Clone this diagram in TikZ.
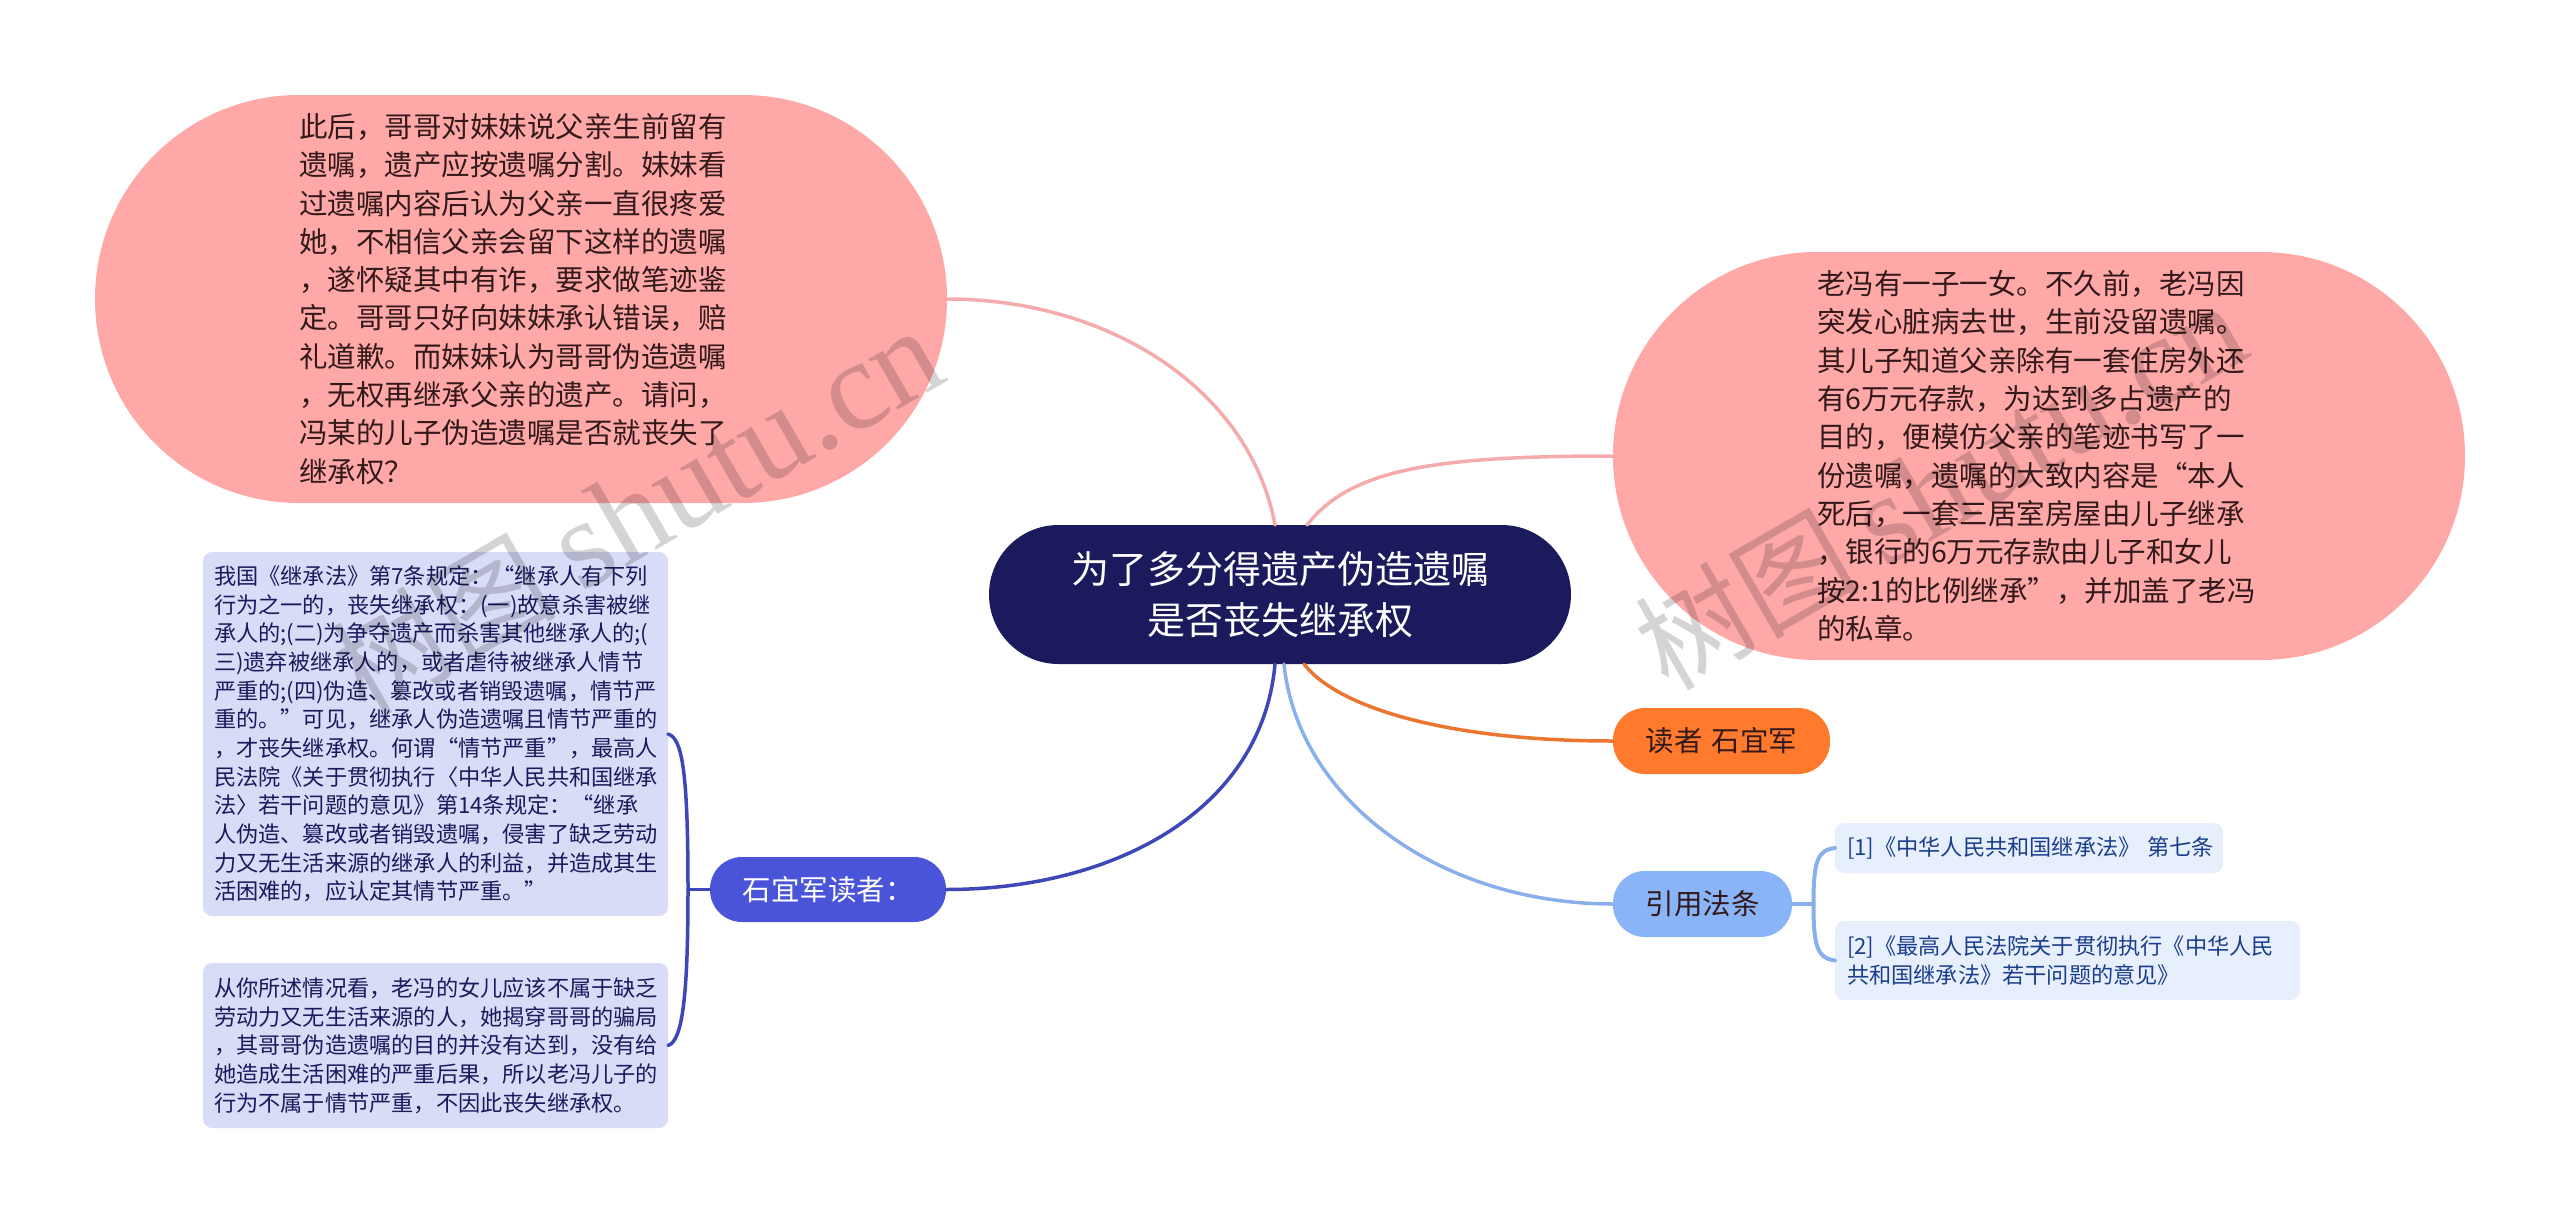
\documentclass[tikz,border=0pt]{standalone}
\usepackage{fontspec}
\setmainfont{Noto Sans CJK SC}
\newfontfamily\wmlatin{Liberation Serif}
\usetikzlibrary{calc}
\definecolor{rootfill}{HTML}{1A1A5C}
\definecolor{pinkfill}{HTML}{FFA8A8}
\definecolor{pinkline}{HTML}{F5ABAB}
\definecolor{orangefill}{HTML}{FF7A2C}
\definecolor{orangeline}{HTML}{EC7630}
\definecolor{bluefill}{HTML}{8AB4F8}
\definecolor{blueline}{HTML}{8AB0EC}
\definecolor{purplefill}{HTML}{4A54D8}
\definecolor{purpleline}{HTML}{3E47B8}
\definecolor{subfill}{HTML}{D9DCF7}
\definecolor{subtext}{HTML}{1A1A5C}
\definecolor{reffill}{HTML}{E8EFFC}
\definecolor{reftext}{HTML}{1A3E8C}
\definecolor{darktext}{HTML}{33191A}
\tikzset{
  every node/.style={inner sep=0pt,outer sep=0pt},
  bignode/.style={fill=pinkfill,rounded corners=204pt,minimum width=852pt,minimum height=408pt,
    text width=444pt,align=left,text=darktext,font=\fontsize{28.5}{38.3}\selectfont},
  rootnode/.style={fill=rootfill,rounded corners=69.5pt,minimum width=582pt,minimum height=139pt,
    align=center,text=white,font=\fontsize{38}{51}\selectfont},
  midnode/.style={rounded corners=32pt,minimum height=66pt,align=center,
    font=\fontsize{28.5}{36}\selectfont},
  subnode/.style={fill=subfill,rounded corners=9pt,minimum width=465pt,text width=443pt,align=left,
    text=subtext,font=\fontsize{22.2}{28.65}\selectfont},
  refnode/.style={fill=reffill,rounded corners=9pt,align=left,
    text=reftext,font=\fontsize{22.2}{29}\selectfont},
  link/.style={line width=3.5pt,line cap=round},
  wmark/.style={rotate=30,text=black,text opacity=0.17,font=\fontsize{112}{120}\selectfont},
}
\begin{document}
\begin{tikzpicture}[x=1pt,y=-1pt]
\useasboundingbox[fill=white] (0,0) rectangle (2560,1223);

\node[bignode] (lp) at (521,299) {此后，哥哥对妹妹说父亲生前留有\\遗嘱，遗产应按遗嘱分割。妹妹看\\过遗嘱内容后认为父亲一直很疼爱\\她，不相信父亲会留下这样的遗嘱\\，遂怀疑其中有诈，要求做笔迹鉴\\定。哥哥只好向妹妹承认错误，赔\\礼道歉。而妹妹认为哥哥伪造遗嘱\\，无权再继承父亲的遗产。请问，\\冯某的儿子伪造遗嘱是否就丧失了\\继承权？};
\node[bignode] (rp) at (2039,456) {老冯有一子一女。不久前，老冯因\\突发心脏病去世，生前没留遗嘱。\\其儿子知道父亲除有一套住房外还\\有6万元存款，为达到多占遗产的\\目的，便模仿父亲的笔迹书写了一\\份遗嘱，遗嘱的大致内容是“本人\\死后，一套三居室房屋由儿子继承\\，银行的6万元存款由儿子和女儿\\按2:1的比例继承”，并加盖了老冯\\的私章。};
\node[rootnode] (root) at (1280,594.5) {为了多分得遗产伪造遗嘱\\是否丧失继承权};
\node[midnode,fill=orangefill,minimum width=217pt,text=darktext] (reader) at (1721.5,741) {读者\hspace{0.32em}石宜军};
\node[midnode,fill=bluefill,minimum width=179pt,text=darktext] (cite) at (1702.5,904) {引用法条};
\node[midnode,fill=purplefill,minimum width=236pt,minimum height=65pt,text=white] (shi) at (828,889.5) {石宜军读者：};
\node[subnode,minimum height=364pt] (sub1) at (435.5,734) {我国《继承法》第7条规定：“继承人有下列\\行为之一的，丧失继承权：(一)故意杀害被继\\承人的;(二)为争夺遗产而杀害其他继承人的;(\\三)遗弃被继承人的，或者虐待被继承人情节\\严重的;(四)伪造、篡改或者销毁遗嘱，情节严\\重的。”可见，继承人伪造遗嘱且情节严重的\\，才丧失继承权。何谓“情节严重”，最高人\\民法院《关于贯彻执行〈中华人民共和国继承\\法〉若干问题的意见》第14条规定：“继承\\人伪造、篡改或者销毁遗嘱，侵害了缺乏劳动\\力又无生活来源的继承人的利益，并造成其生\\活困难的，应认定其情节严重。”};
\node[subnode,minimum height=165pt] (sub2) at (435.5,1045.5) {从你所述情况看，老冯的女儿应该不属于缺乏\\劳动力又无生活来源的人，她揭穿哥哥的骗局\\，其哥哥伪造遗嘱的目的并没有达到，没有给\\她造成生活困难的严重后果，所以老冯儿子的\\行为不属于情节严重，不因此丧失继承权。};
\node[refnode,minimum width=388pt,minimum height=50pt,text width=364pt] (ref1) at (2029,848) {[1]《中华人民共和国继承法》\hbox to 0.3em{}第七条};
\node[refnode,minimum width=465pt,minimum height=79pt,text width=441pt] (ref2) at (2067.5,960.5) {[2]《最高人民法院关于贯彻执行《中华人民\\共和国继承法》若干问题的意见》};

\coordinate (rootTL) at (1275,525);
\coordinate (rootTR) at (1307,525);
\coordinate (rootBL) at (1275,664);
\coordinate (rootBM) at (1284,664);
\coordinate (rootBR) at (1304,664);
\coordinate (leftHub) at (688,889.5);
\coordinate (rightHub) at (1813.5,904);

\draw[link,pinkline] (lp.east) .. controls (1110,299) and (1250,390) .. (rootTL);
\draw[link,pinkline] (rp.west) .. controls (1430,456) and (1350,470) .. (rootTR);
\draw[link,orangeline] (rootBR) .. controls (1335,705) and (1440,741) .. (reader.west);
\draw[link,blueline] (rootBM) .. controls (1298,800) and (1440,904) .. (cite.west);
\draw[link,purpleline] (rootBL) .. controls (1262,810) and (1115,889.5) .. (shi.east);

\draw[link,purpleline] (shi.west) -- (leftHub);
\draw[link,purpleline] (sub1.east) .. controls (682,738) and (688,770) .. (leftHub);
\draw[link,purpleline] (sub2.east) .. controls (682,1041) and (688,1000) .. (leftHub);
\draw[link,blueline,line width=4pt] (cite.east) -- (rightHub);
\draw[link,blueline,line width=4pt] (ref1.west) .. controls (1817,850) and (1813.5,862) .. (rightHub);
\draw[link,blueline,line width=4pt] (ref2.west) .. controls (1817,958) and (1813.5,946) .. (rightHub);

\node[wmark] (wmA) at (637,512) {树图 {\wmlatin\fontsize{127}{140}\selectfont shutu.cn}};
\node[wmark] (wmB) at (1940,487) {树图 {\wmlatin\fontsize{127}{140}\selectfont shutu.cn}};
\end{tikzpicture}
\end{document}
